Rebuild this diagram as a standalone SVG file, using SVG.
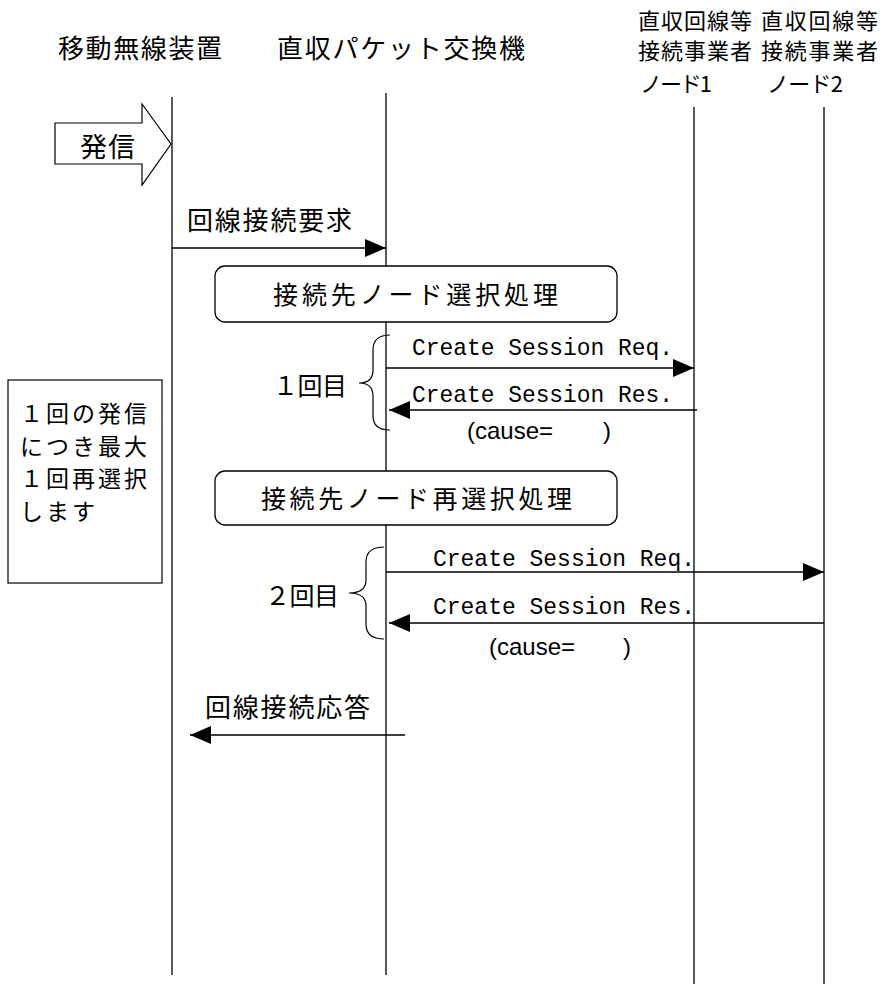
<svg xmlns="http://www.w3.org/2000/svg" width="885" height="984" viewBox="0 0 885 984">
<defs>
<style>
.jp{font-family:"Noto Sans CJK JP","Noto Sans CJK SC",sans-serif;fill:#000;dominant-baseline:central}
.mono{font-family:"Liberation Mono","DejaVu Sans Mono",monospace;fill:#000;dominant-baseline:central;font-size:24px}
.sans{font-family:"Liberation Sans",Arial,sans-serif;fill:#000;dominant-baseline:central;font-size:24px}
.life{stroke:#000;stroke-width:1.3;fill:none}
.msg{stroke:#000;stroke-width:1.3;fill:none;marker-end:url(#ah)}
.box{fill:#fff;stroke:#000;stroke-width:1.3}
.brace{stroke:#000;stroke-width:1.2;fill:none}
.note{font-size:23px;letter-spacing:3px}
</style>
<marker id="ah" markerUnits="userSpaceOnUse" markerWidth="22" markerHeight="20" refX="21" refY="9" orient="auto">
<path d="M0,0 L21,9 L0,18 z" fill="#000"/>
</marker>
</defs>
<rect width="885" height="984" fill="#fff"/>

<g id="lifelines">
<line class="life" x1="172" y1="97" x2="172" y2="975"/>
<line class="life" x1="386" y1="93" x2="386" y2="975"/>
<line class="life" x1="694" y1="107" x2="694" y2="984"/>
<line class="life" x1="824" y1="107" x2="824" y2="984"/>
</g>

<g id="header-mobile">
<text class="jp" x="58" y="46" font-size="26" textLength="164" lengthAdjust="spacing">移動無線装置</text>
</g>
<g id="header-switch">
<text class="jp" x="277" y="46" font-size="26" textLength="248" lengthAdjust="spacing">直収パケット交換機</text>
</g>
<g id="header-node1">
<text class="jp" x="638" y="19" font-size="22" textLength="114" lengthAdjust="spacing">直収回線等</text>
<text class="jp" x="638" y="49" font-size="22" textLength="114" lengthAdjust="spacing">接続事業者</text>
<text class="jp" x="640" y="82" font-size="22" textLength="72" lengthAdjust="spacing">ノード1</text>
</g>
<g id="header-node2">
<text class="jp" x="761" y="19" font-size="22" textLength="117" lengthAdjust="spacing">直収回線等</text>
<text class="jp" x="761" y="49" font-size="22" textLength="117" lengthAdjust="spacing">接続事業者</text>
<text class="jp" x="767" y="82" font-size="22" textLength="76" lengthAdjust="spacing">ノード2</text>
</g>

<g id="origination">
<polygon points="55,123 142,123 142,104 171,144 142,185 142,164 55,164" fill="#fff" stroke="#000" stroke-width="1.2"/>
<text class="jp" x="80" y="145" font-size="27" textLength="55" lengthAdjust="spacing">発信</text>
</g>

<g id="select-box">
<rect class="box" x="215" y="266" width="402" height="56" rx="10"/>
<text class="jp" x="273" y="293" font-size="25" textLength="285" lengthAdjust="spacing">接続先ノード選択処理</text>
</g>

<g id="reselect-box">
<rect class="box" x="215" y="471" width="402" height="54" rx="10"/>
<text class="jp" x="261" y="497" font-size="25" textLength="311" lengthAdjust="spacing">接続先ノード再選択処理</text>
</g>

<g id="note">
<rect x="8" y="380" width="154" height="203" fill="#fff" stroke="#000" stroke-width="1.2"/>
<text class="jp note" x="20" y="412">１回の発信</text>
<text class="jp note" x="20" y="445">につき最大</text>
<text class="jp note" x="20" y="477">１回再選択</text>
<text class="jp note" x="20" y="510">します</text>
</g>

<g id="attempt1">
<path class="brace" d="M390,335 Q373,335 373,350 L373,370 Q373,383 359,383 Q373,383 373,396 L373,416 Q373,430 390,430"/>
<text class="jp" x="273" y="384" font-size="25" textLength="74" lengthAdjust="spacing">１回目</text>
</g>

<g id="attempt2">
<path class="brace" d="M384,547 Q366,547 366,562 L366,580 Q366,593 349,593 Q366,593 366,606 L366,624 Q366,639 384,639"/>
<text class="jp" x="265" y="594" font-size="25" textLength="74" lengthAdjust="spacing">２回目</text>
</g>

<g id="connectors">
<line class="msg" x1="172" y1="248" x2="386" y2="248"/>
<line class="msg" x1="386" y1="368" x2="694" y2="368"/>
<line class="msg" x1="697" y1="410" x2="389" y2="410"/>
<line class="msg" x1="386" y1="572" x2="824" y2="572"/>
<line class="msg" x1="824" y1="623" x2="389" y2="623"/>
<line class="msg" x1="405" y1="735" x2="190" y2="735"/>
</g>

<g id="labels">
<text class="jp" x="187" y="218" font-size="26" textLength="165" lengthAdjust="spacing">回線接続要求</text>
<text class="mono" x="412" y="348" textLength="261" lengthAdjust="spacingAndGlyphs">Create Session Req.</text>
<text class="mono" x="412" y="395" textLength="261" lengthAdjust="spacingAndGlyphs">Create Session Res.</text>
<text class="sans" x="467" y="430" xml:space="preserve">(cause=  <tspan x="603">)</tspan></text>
<text class="mono" x="433" y="559" textLength="262" lengthAdjust="spacingAndGlyphs">Create Session Req.</text>
<text class="mono" x="433" y="607" textLength="262" lengthAdjust="spacingAndGlyphs">Create Session Res.</text>
<text class="sans" x="489" y="646" xml:space="preserve">(cause=  <tspan x="623">)</tspan></text>
<text class="jp" x="205" y="705" font-size="26" textLength="165" lengthAdjust="spacing">回線接続応答</text>
</g>
</svg>
